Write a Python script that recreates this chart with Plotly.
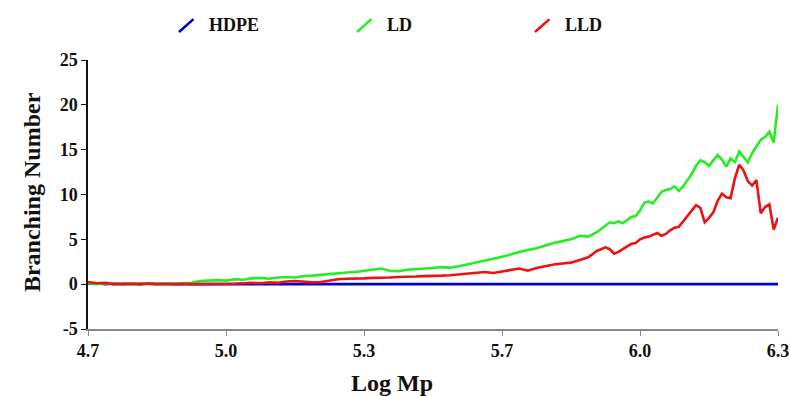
import plotly.graph_objects as go

log_mp = [4.70, 4.72, 4.74, 4.76, 4.78, 4.80, 4.82, 4.84, 4.86, 4.88,
          4.90, 4.92, 4.94, 4.96, 4.98, 5.00, 5.02, 5.04, 5.06, 5.08,
          5.10, 5.12, 5.14, 5.16, 5.18, 5.20, 5.22, 5.24, 5.26, 5.28,
          5.30, 5.32, 5.34, 5.36, 5.38, 5.40, 5.42, 5.44, 5.46, 5.48,
          5.50, 5.52, 5.54, 5.56, 5.58, 5.60, 5.62, 5.64, 5.66, 5.68,
          5.70, 5.72, 5.74, 5.76, 5.78, 5.80, 5.82, 5.84, 5.86, 5.88,
          5.90, 5.91, 5.92, 5.93, 5.94, 5.95, 5.96, 5.97, 5.98, 5.99,
          6.00, 6.01, 6.02, 6.03, 6.04, 6.05, 6.06, 6.07, 6.08, 6.09,
          6.10, 6.11, 6.12, 6.13, 6.14, 6.15, 6.16, 6.17, 6.18, 6.19,
          6.20, 6.21, 6.22, 6.23, 6.24, 6.25, 6.26, 6.27, 6.28, 6.29, 6.30]

hdpe = [0.05, 0.1, 0.0, 0.05, 0.0, 0.05, 0.0, 0.08, 0.0, 0.05,
        0.0, 0.03, 0.0, 0.0, 0.0, 0.0, 0.0, 0.0, 0.0, 0.0,
        0.0, 0.0, 0.0, 0.0, 0.0, 0.0, 0.0, 0.0, 0.0, 0.0,
        0.0, 0.0, 0.0, 0.0, 0.0, 0.0, 0.0, 0.0, 0.0, 0.0,
        0.0, 0.0, 0.0, 0.0, 0.0, 0.0, 0.0, 0.0, 0.0, 0.0,
        0.0, 0.0, 0.0, 0.0, 0.0, 0.0, 0.0, 0.0, 0.0, 0.0,
        0.0, 0.0, 0.0, 0.0, 0.0, 0.0, 0.0, 0.0, 0.0, 0.0,
        0.0, 0.0, 0.0, 0.0, 0.0, 0.0, 0.0, 0.0, 0.0, 0.0,
        0.0, 0.0, 0.0, 0.0, 0.0, 0.0, 0.0, 0.0, 0.0, 0.0,
        0.0, 0.0, 0.0, 0.0, 0.0, 0.0, 0.0, 0.0, 0.0, 0.0, 0.0]

ld = [0.1, 0.0, 0.1, 0.0, 0.05, 0.0, 0.1, 0.05, 0.0, 0.1,
      0.05, 0.1, 0.15, 0.35, 0.4, 0.45, 0.4, 0.55, 0.5, 0.65,
      0.7, 0.6, 0.75, 0.8, 0.75, 0.9, 0.95, 1.05, 1.1, 1.2,
      1.3, 1.35, 1.5, 1.65, 1.75, 1.5, 1.45, 1.6, 1.65, 1.75,
      1.8, 1.9, 1.85, 2.0, 2.2, 2.4, 2.6, 2.8, 3.05, 3.3,
      3.6, 3.8, 4.0, 4.3, 4.6, 4.8, 5.0, 5.4, 5.3, 5.8,
      6.5, 6.9, 6.8, 7.0, 6.8, 7.2, 7.5, 7.6, 8.2, 9.1,
      9.2, 9.0, 9.6, 10.3, 10.5, 10.6, 10.9, 10.4, 10.9, 11.6,
      12.3, 13.2, 13.8, 13.6, 13.2, 13.8, 14.4, 13.9, 13.1, 14.0,
      13.6, 14.8, 14.2, 13.6, 14.6, 15.4, 16.1, 16.4, 17.0, 15.8, 20.0]

lld = [0.25, 0.1, 0.15, 0.0, 0.05, 0.0, 0.0, 0.05, 0.0, 0.0,
       0.0, 0.05, 0.0, 0.0, 0.05, 0.0, 0.0, 0.05, 0.1, 0.15,
       0.1, 0.2, 0.15, 0.3, 0.35, 0.3, 0.2, 0.25, 0.4, 0.55,
       0.6, 0.6, 0.65, 0.7, 0.7, 0.75, 0.8, 0.8, 0.85, 0.9,
       0.9, 0.95, 1.0, 1.1, 1.2, 1.3, 1.35, 1.25, 1.4, 1.6,
       1.75, 1.5, 1.8, 2.0, 2.2, 2.3, 2.4, 2.7, 3.0, 3.7,
       4.1, 3.9, 3.4, 3.6, 3.9, 4.2, 4.5, 4.6, 5.0, 5.2,
       5.3, 5.5, 5.7, 5.4, 5.6, 6.0, 6.3, 6.4, 7.0, 7.6,
       8.3, 8.8, 8.5, 6.9, 7.4, 8.0, 9.3, 10.1, 9.7, 9.6,
       11.8, 13.3, 12.7, 11.5, 11.0, 11.6, 7.9, 8.6, 8.9, 6.1, 7.4]

x_tickvals = [4.70, 5.02, 5.34, 5.66, 5.98, 6.30]
x_ticktext = ["4.7", "5.0", "5.3", "5.7", "6.0", "6.3"]
y_tickvals = [-5, 0, 5, 10, 15, 20, 25]
y_ticktext = ["-5", "0", "5", "10", "15", "20", "25"]

series_names = ["HDPE", "LD", "LLD"]
series_colors = ["#0000cc", "#22ee22", "#ee1111"]

FONT = "Liberation Serif"

fig = go.Figure()
for name, ys, col in zip(series_names, [hdpe, ld, lld], series_colors):
    fig.add_trace(go.Scatter(x=log_mp, y=ys, mode="lines", name=name,
                             line=dict(color=col, width=2.6),
                             showlegend=False))

fig.update_layout(
    width=790, height=396,
    margin=dict(l=88, r=12, t=60, b=67),
    paper_bgcolor="white", plot_bgcolor="white",
    font=dict(family=FONT, color="#111111"),
)
fig.update_xaxes(range=[4.70, 6.30], tickvals=x_tickvals, ticktext=x_ticktext,
                 automargin=False,
                 showgrid=False, zeroline=False, showline=True,
                 linecolor="#888888", linewidth=1.5,
                 ticks="outside", ticklen=5, tickcolor="#888888",
                 tickfont=dict(family=FONT, size=18, color="#111111",
                               weight="bold"))
fig.update_yaxes(range=[-5, 25], tickvals=y_tickvals, ticktext=y_ticktext,
                 automargin=False,
                 showgrid=False, zeroline=False, showline=True,
                 linecolor="#111111", linewidth=1.5,
                 ticks="outside", ticklen=5, tickcolor="#111111",
                 tickfont=dict(family=FONT, size=18, color="#111111",
                               weight="bold"))

# custom legend with diagonal line symbols
legend_pos = [(0.1319, 0.1725), (0.3899, 0.4304), (0.6478, 0.6884)]
for (sx, tx), name, col in zip(legend_pos, series_names, series_colors):
    fig.add_shape(type="line", xref="paper", yref="paper",
                  x0=sx, y0=1.104, x1=sx + 0.021, y1=1.152,
                  line=dict(color=col, width=2.6))
    fig.add_annotation(x=tx, y=1.130, xref="paper", yref="paper",
                       text="<b>%s</b>" % name, showarrow=False,
                       xanchor="left", yanchor="middle",
                       font=dict(family=FONT, size=18, color="#111111"))

fig.add_annotation(x=-0.0812, y=0.509, xref="paper", yref="paper",
                   text="<b>Branching Number</b>", textangle=-90,
                   showarrow=False, xanchor="center", yanchor="middle",
                   font=dict(family=FONT, size=24, color="#111111"))
fig.add_annotation(x=0.4406, y=-0.2007, xref="paper", yref="paper",
                   text="<b>Log Mp</b>", showarrow=False,
                   xanchor="center", yanchor="middle",
                   font=dict(family=FONT, size=24, color="#111111"))

fig.write_html("out.html")
